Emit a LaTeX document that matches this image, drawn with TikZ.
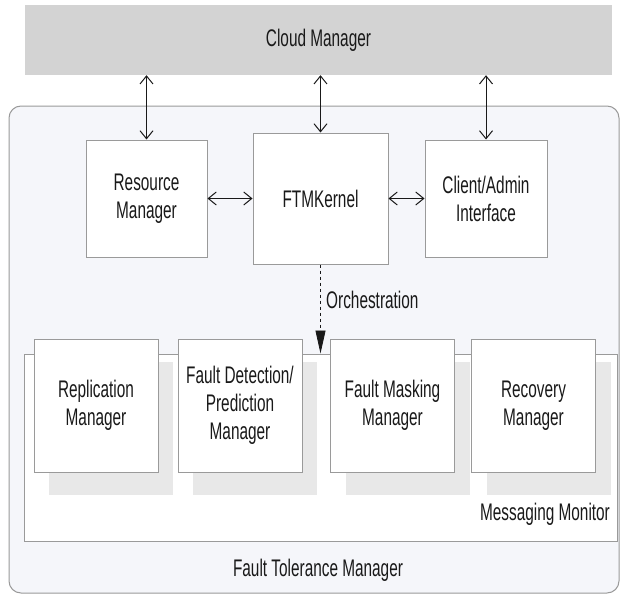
\documentclass[tikz,border=0pt]{standalone}
\usepackage{fontspec}
\setmainfont{Liberation Sans}[FakeStretch=0.64]
\usepackage{xcolor}
\usepackage{tikz}
\usetikzlibrary{shapes,shadows,arrows.meta,calc}
\definecolor{cloudgray}{HTML}{D3D3D3}
\definecolor{ftmfill}{HTML}{F5F6FA}
\definecolor{linegray}{HTML}{9A9A9A}
\definecolor{shadegray}{HTML}{E8E8E8}
\tikzstyle{tsText} = [
    text=black!90,
    font=\fontsize{24}{28}\selectfont
]
\tikzstyle{tsWraptext} = [
    tsText,
    align=center
]
\tikzstyle{tsBox} = [
    rectangle,
    tsWraptext,
    draw=linegray,
    fill=white,
    line width=1pt
]
\tikzstyle{tsManager} = [
    tsBox,
    minimum width=124pt,
    minimum height=133pt,
    drop shadow={shadow xshift=15pt, shadow yshift=-23pt, fill=shadegray, opacity=1}
]
\tikzstyle{tsLink} = [
    {Straight Barb[length=8pt,width=13pt]}-{Straight Barb[length=8pt,width=13pt]},
    line width=1pt,
    black!90
]
\begin{document}
\begin{tikzpicture}[x=1pt, y=-1pt]

        \useasboundingbox (0,0) rectangle (621,594);

        \node[  rectangle,
                tsText,
                fill=cloudgray,
                minimum width=587pt,
                minimum height=70pt] (cloud) at (318.5,40) {Cloud Manager};

        \node[  rectangle,
                draw=linegray,
                fill=ftmfill,
                line width=1pt,
                rounded corners=12pt,
                minimum width=610pt,
                minimum height=487pt] (ftm) at (314,349.5) {};

        \node[  tsBox,
                minimum width=121pt,
                minimum height=117pt] (resource) at (146.5,198.5) {Resource\\Manager};

        \node[  tsBox,
                minimum width=135pt,
                minimum height=131pt] (kernel) at (320.5,198.5) {FTMKernel};

        \node[  tsBox,
                minimum width=122pt,
                minimum height=117pt] (client) at (486,198.5) {Client/Admin\\Interface};

        \node[  tsBox,
                minimum width=593pt,
                minimum height=187pt] (messaging) at (320.5,447.5) {};

        \node[tsManager] (replication) at (96,405.5) {Replication\\Manager};
        \node[tsManager] (detection) at (240,405.5) {Fault Detection/\\Prediction\\Manager};
        \node[tsManager] (masking) at (392.5,405.5) {Fault Masking\\Manager};
        \node[tsManager] (recovery) at (533.5,405.5) {Recovery\\Manager};

        \draw[tsLink] (cloud.south -| resource.north) -- (resource.north);
        \draw[tsLink] (cloud.south -| kernel.north) -- (kernel.north);
        \draw[tsLink] (cloud.south -| client.north) -- (client.north);
        \draw[tsLink] (resource.east) -- (kernel.west);
        \draw[tsLink] (kernel.east) -- (client.west);

        \draw[-{Triangle[length=23pt,width=10pt]}, dashed, line width=0.8pt, black!90]
            (kernel.south) -- (kernel.south |- messaging.north)
            node[tsText, pos=0.4, right, xshift=2pt] (orch) {Orchestration};

        \node[tsText] (mmlabel) at (545,514) {Messaging Monitor};
        \node[tsText] (ftmlabel) at (318,570) {Fault Tolerance Manager};

    \end{tikzpicture}
\end{document}
